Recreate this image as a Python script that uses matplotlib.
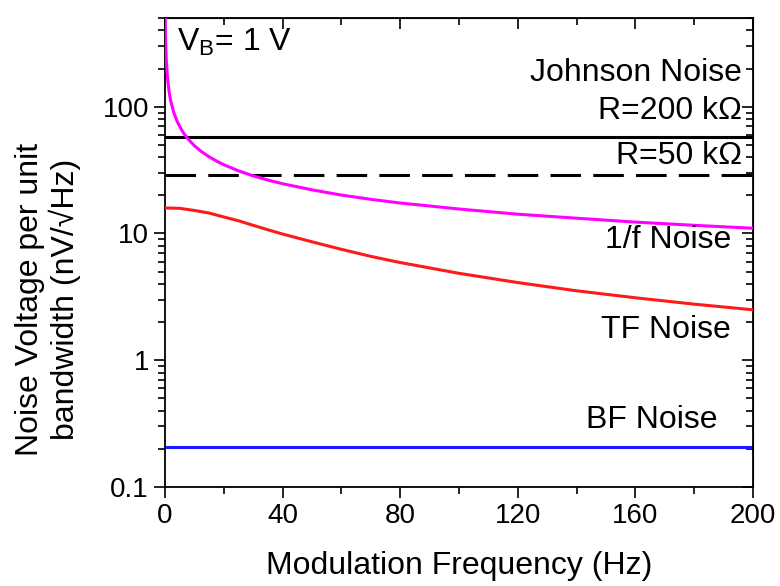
import matplotlib
matplotlib.use("Agg")
import matplotlib.pyplot as plt
from matplotlib.ticker import LogLocator, MultipleLocator, NullFormatter

plt.rcParams["font.family"] = ["Liberation Sans", "DejaVu Sans"]

# 1/f noise (magenta)
f_1f = [0.1, 0.15, 0.25, 0.5, 1, 1.5, 2, 3, 4, 5, 6, 7, 8, 10, 12, 15, 18, 20, 25,
        30, 35, 40, 50, 60, 70, 80, 100, 120, 140, 160, 180, 200]
v_1f = [493, 403, 312, 221, 156, 127, 110, 90, 78, 70, 63.7, 59, 55.2, 49.3, 45.0,
        40.3, 36.8, 34.9, 31.2, 28.5, 26.4, 24.7, 22.1, 20.1, 18.6, 17.4, 15.6,
        14.2, 13.2, 12.3, 11.6, 11.0]

# TF noise (red)
f_tf = [0, 5, 10, 15, 20, 25, 30, 35, 40, 50, 60, 70, 80, 100, 120, 140, 160, 180, 200]
v_tf = [15.9, 15.8, 15.2, 14.5, 13.5, 12.6, 11.6, 10.7, 9.9, 8.6, 7.5, 6.6, 5.9,
        4.85, 4.1, 3.53, 3.11, 2.77, 2.5]

# flat levels
f_span = [0, 200]
johnson_200k = 57.5
johnson_50k = 28.8
bf_noise = 0.205

fig = plt.figure(figsize=(7.8, 5.86), dpi=100)
ax = fig.add_axes([0.2115, 0.169, 0.7538, 0.80])

ax.plot(f_1f, v_1f, color="#ff00ff", lw=2.2, zorder=3)
ax.plot(f_tf, v_tf, color="#ff1a1a", lw=2.2, zorder=3)
ax.plot(f_span, [johnson_200k] * 2, color="black", lw=2.2)
ax.plot(f_span, [johnson_50k] * 2, color="black", lw=2.2, dashes=(10, 4))
ax.plot(f_span, [bf_noise] * 2, color="#1a1aff", lw=2.2)

ax.set_yscale("log")
ax.set_xlim(0, 200)
ax.set_ylim(0.1, 500)

ax.xaxis.set_major_locator(MultipleLocator(40))
ax.xaxis.set_minor_locator(MultipleLocator(20))
ax.yaxis.set_minor_locator(LogLocator(base=10, subs=range(2, 10), numticks=20))
ax.yaxis.set_minor_formatter(NullFormatter())
ax.set_yticks([0.1, 1, 10, 100])
ax.set_yticklabels(["0.1", "1", "10", "100"])

ax.tick_params(which="both", direction="out", labelsize=20, width=1.2)
ax.tick_params(which="major", length=8)
ax.tick_params(which="minor", length=5)
for spine in ax.spines.values():
    spine.set_linewidth(1.3)

# mirrored ticks point inward
secx = ax.secondary_xaxis("top")
secx.xaxis.set_major_locator(MultipleLocator(40))
secx.xaxis.set_minor_locator(MultipleLocator(20))
secx.tick_params(which="both", direction="in", labeltop=False, width=1.2)
secx.tick_params(which="major", length=8)
secx.tick_params(which="minor", length=5)
secy = ax.secondary_yaxis("right")
secy.yaxis.set_minor_locator(LogLocator(base=10, subs=range(2, 10), numticks=20))
secy.tick_params(which="both", direction="in", labelright=False, width=1.2)
secy.tick_params(which="major", length=8)
secy.tick_params(which="minor", length=5)

ax.set_xlabel("Modulation Frequency (Hz)", fontsize=23, labelpad=16)
ax.set_ylabel("Noise Voltage per unit\nbandwidth (nV/\u221aHz)", fontsize=23,
              linespacing=1.15)
ax.yaxis.set_label_coords(-0.142, 0.40)

tx = dict(fontsize=23, ha="right", va="center", transform=ax.transAxes)


def ay(px):
    return (487 - px) / 469.0


def axx(px):
    return (px - 165) / 588.0


ax.text(axx(742), ay(73), "Johnson Noise", **tx)
ax.text(axx(742), ay(111), "R=200 k\u03a9", **tx)
ax.text(axx(742), ay(156), "R=50 k\u03a9", **tx)
ax.text(axx(731), ay(240), "1/f Noise", **tx)
ax.text(axx(731), ay(330), "TF Noise", **tx)
ax.text(axx(718), ay(420), "BF Noise", **tx)
ax.text(axx(177), ay(42), "V$_\\mathregular{B}$= 1 V", fontsize=23, ha="left",
        va="center", transform=ax.transAxes)

fig.savefig("out.png", dpi=100)
